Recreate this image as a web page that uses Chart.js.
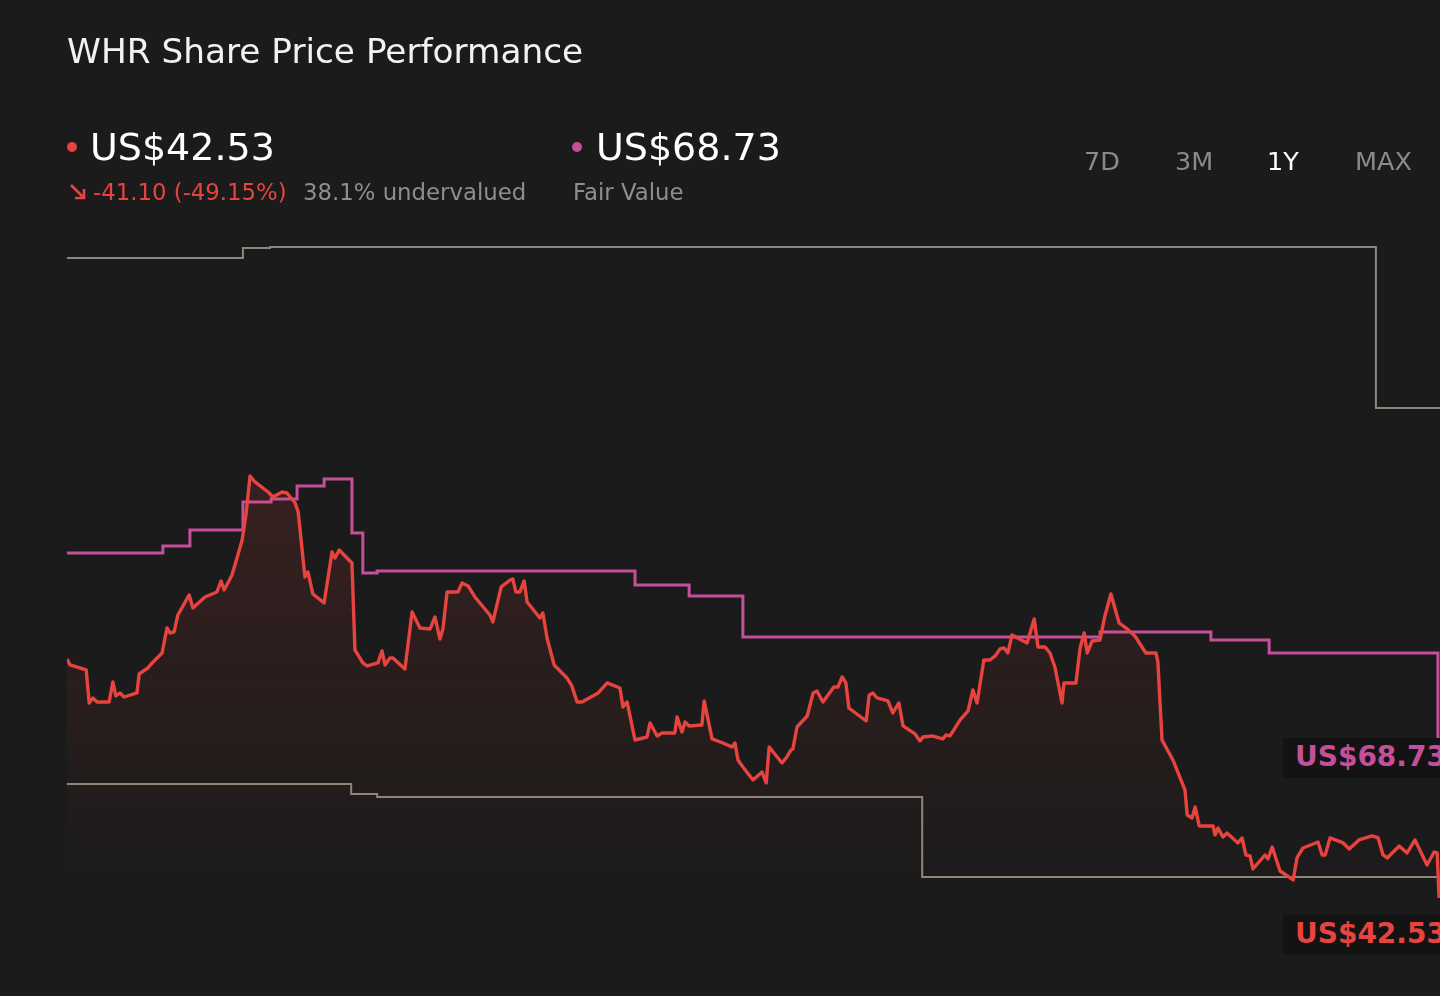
<!DOCTYPE html>
<html>
<head>
<meta charset="utf-8">
<script src="https://cdn.jsdelivr.net/npm/chart.js@4"></script>
<style>
  html, body { margin:0; padding:0; background:#1b1b1b; width:1440px; height:996px; overflow:hidden; font-family:"DejaVu Sans", sans-serif; }
  #wrap { position:relative; width:1440px; height:996px; }
  #c { position:absolute; left:0; top:0; }
  .t { position:absolute; line-height:1; white-space:nowrap; }
  .dot { position:absolute; width:10px; height:10px; border-radius:50%; }
  .endlab { position:absolute; left:1283px; width:157px; height:40px; background:#141313; overflow:hidden; border-radius:3px 0 0 3px; }
  .endlab span { position:absolute; left:12px; top:5px; font-weight:bold; font-size:28px; line-height:1; white-space:nowrap; }
</style>
</head>
<body>
<div id="wrap">
  <canvas id="c" width="1440" height="996"></canvas>
  <div class="t" style="left:67px;top:34px;font-size:34.3px;color:#f2f2f2;">WHR Share Price Performance</div>

  <div class="dot" style="left:67px;top:142px;background:#e8443f;"></div>
  <div class="t" style="left:90px;top:128px;font-size:38px;color:#ffffff;">US$42.53</div>
  <svg style="position:absolute;left:69px;top:183px;" width="18" height="18" viewBox="0 0 18 18">
    <path d="M2 2 L15 15 M15 6 L15 15 L6 15" stroke="#e8443f" stroke-width="2.6" fill="none"/>
  </svg>
  <div class="t" style="left:93px;top:181px;font-size:22.8px;color:#e8443f;">-41.10 (-49.15%)</div>
  <div class="t" style="left:303px;top:181px;font-size:22.8px;color:#8e8e8e;">38.1% undervalued</div>

  <div class="dot" style="left:572px;top:142px;background:#c4509a;"></div>
  <div class="t" style="left:596px;top:128px;font-size:38px;color:#ffffff;">US$68.73</div>
  <div class="t" style="left:573px;top:181px;font-size:22.8px;color:#8e8e8e;">Fair Value</div>

  <div class="t" style="left:1084px;top:149px;font-size:25.5px;color:#8a8a8a;">7D</div>
  <div class="t" style="left:1175px;top:149px;font-size:25.5px;color:#8a8a8a;">3M</div>
  <div class="t" style="left:1267px;top:149px;font-size:25.5px;color:#ffffff;">1Y</div>
  <div class="t" style="left:1355px;top:149px;font-size:25.5px;color:#8a8a8a;">MAX</div>

  <div class="endlab" style="top:738px;"><span style="color:#c4509a;">US$68.73</span></div>
  <div class="endlab" style="top:915px;"><span style="color:#e8443f;">US$42.53</span></div>
</div>
<script>
// Days since start of the 1-year window
const priceDays = [0.0,0.8,5.1,5.9,6.9,8.0,11.2,12.2,13.0,14.1,15.2,18.6,19.2,21.5,22.9,25.3,26.6,27.4,28.5,29.5,
  32.5,33.5,36.7,39.9,41.0,41.8,43.9,46.6,47.6,48.7,50.0,53.5,54.8,57.2,58.5,60.7,61.5,63.3,64.1,65.4,
  68.4,70.5,71.3,72.4,75.8,76.6,78.7,79.8,82.7,83.8,84.6,85.9,86.7,89.9,91.8,93.9,96.6,97.9,99.2,100.0,
  101.1,104.0,105.1,106.7,108.5,112.5,113.3,115.5,117.9,118.6,119.4,120.5,121.6,122.4,125.8,126.6,127.7,129.6,133.0,134.3,
  135.7,137.0,141.3,143.7,147.1,147.9,149.0,151.1,154.3,155.1,157.0,158.3,161.7,162.3,163.6,164.4,165.5,168.9,169.5,171.6,
  174.5,176.9,177.7,178.5,179.8,182.5,184.9,186.0,186.8,190.2,191.5,192.6,193.1,194.2,196.9,198.5,199.5,201.1,204.0,205.1,
  206.2,207.2,208.0,212.6,213.4,214.4,215.5,218.4,219.7,221.3,222.4,225.6,226.9,227.7,230.1,233.0,233.8,234.9,237.6,239.7,
  241.0,242.1,243.9,245.5,246.9,248.2,249.3,250.3,251.4,255.4,257.3,258.3,260.2,261.5,262.8,264.7,265.2,268.4,269.5,270.6,
  271.4,272.7,274.8,276.1,277.7,279.9,282.0,284.1,287.0,289.7,290.2,291.3,294.2,297.4,298.0,299.3,300.1,301.2,304.9,305.4,
  306.2,307.5,308.6,311.5,312.6,313.6,314.7,315.5,318.7,319.5,320.6,322.7,326.2,327.2,328.8,332.8,333.9,334.7,336.0,339.5,
  341.1,343.7,347.2,348.8,350.1,351.2,354.4,356.5,358.6,361.8,363.7,364.5,365.0];
// WHR close price (US$)
const priceValues = [81.67,80.68,79.87,74.46,75.28,74.63,74.63,77.90,75.61,76.10,75.44,76.10,79.21,80.19,81.18,82.65,86.74,85.92,86.09,88.87,
  92.15,90.02,91.82,92.64,94.44,92.97,95.42,101.15,105.25,111.63,110.65,109.01,108.19,109.01,108.85,107.21,105.74,95.09,95.91,92.31,
  90.84,99.19,98.21,99.52,97.39,83.14,81.01,80.52,81.01,82.98,80.68,81.83,81.83,80.03,89.36,86.74,86.58,88.54,84.94,86.58,
  92.64,92.64,94.11,93.62,91.82,88.87,87.73,93.46,94.60,94.77,92.64,92.64,94.44,91.00,88.38,89.20,85.11,80.68,78.56,77.25,
  74.63,74.63,76.10,77.74,76.92,73.81,74.63,68.40,68.89,71.19,69.06,69.55,69.55,72.17,69.71,71.35,70.70,70.86,74.79,68.57,
  67.91,67.26,67.91,65.13,63.98,61.85,63.16,61.36,67.26,64.64,65.62,66.77,66.93,70.53,72.33,76.10,76.43,74.63,77.08,77.08,
  78.72,77.74,73.64,71.51,75.77,76.10,75.28,74.79,72.82,74.46,70.70,69.39,68.24,68.89,69.06,68.57,69.22,69.06,71.68,73.15,
  76.59,74.46,81.50,81.50,82.16,83.30,83.47,82.65,85.60,84.29,88.22,83.63,83.63,82.65,80.36,74.46,77.74,77.74,83.47,85.92,
  82.65,84.61,84.78,88.71,92.31,87.56,86.58,85.43,82.65,82.65,81.18,68.40,65.13,60.22,56.12,55.63,57.43,54.32,54.32,52.85,
  53.99,52.52,53.17,51.54,52.36,49.57,49.41,47.28,49.57,48.92,50.88,46.95,45.48,49.08,50.72,51.70,49.57,49.57,52.36,51.54,
  50.55,52.03,52.68,52.36,49.57,49.08,51.05,49.90,52.03,47.93,50.06,49.90,42.53];

// Fair value estimate (changes)
const fairDays   = [0.0,25.5,32.7,46.8,54.3,61.2,68.4,75.8,78.7,82.5,151.1,165.5,179.8,274.8,304.3,319.8,364.7];
const fairValues = [99.02,100.17,102.79,107.38,107.87,110.00,111.14,102.30,95.75,96.08,93.78,91.98,85.27,86.09,84.78,82.65,68.73];

// Analyst price target range
const highDays   = [0.0,46.8,54.0,348.2,365.25];
const highValues = [147.33,148.97,149.13,122.77,122.77];
const lowDays    = [0.0,75.6,82.5,227.5,365.25];
const lowValues  = [61.20,59.56,59.07,45.97,45.97];

const toXY = (xs, ys) => xs.map((x, i) => ({ x, y: ys[i] }));

const RED = '#e8443f', PINK = '#c4509a', GREY = '#8c877a';

const ctx = document.getElementById('c').getContext('2d');
new Chart(ctx, {
  type: 'line',
  data: {
    datasets: [
      {
        label: 'Price',
        data: toXY(priceDays, priceValues),
        borderColor: RED,
        borderWidth: 3.4,
        pointRadius: 0,
        tension: 0,
        borderJoinStyle: 'round',
        fill: 'start',
        backgroundColor: (c) => {
          const a = c.chart.chartArea;
          if (!a) return 'rgba(232,68,63,0.1)';
          const g = c.chart.ctx.createLinearGradient(0, 220, 0, a.bottom - 8);
          g.addColorStop(0, 'rgba(232,68,63,0.22)');
          g.addColorStop(0.55, 'rgba(232,68,63,0.10)');
          g.addColorStop(1, 'rgba(232,68,63,0)');
          return g;
        }
      },
      {
        label: 'Fair Value',
        data: toXY(fairDays, fairValues),
        borderColor: PINK,
        borderWidth: 3,
        pointRadius: 0,
        stepped: 'before',
        fill: false
      },
      {
        label: 'High',
        data: toXY(highDays, highValues),
        borderColor: GREY,
        borderWidth: 2,
        pointRadius: 0,
        stepped: 'before',
        fill: false
      },
      {
        label: 'Low',
        data: toXY(lowDays, lowValues),
        borderColor: GREY,
        borderWidth: 2,
        pointRadius: 0,
        stepped: 'before',
        fill: false
      }
    ]
  },
  options: {
    responsive: false,
    animation: false,
    devicePixelRatio: 1,
    layout: { padding: { left: 67, right: 0, top: 110, bottom: 91 } },
    plugins: { legend: { display: false }, tooltip: { enabled: false } },
    scales: {
      x: { type: 'linear', min: 0, max: 365.25, display: false },
      y: { type: 'linear', min: 41.38, max: 171.56, display: false }
    }
  }
});
</script>
</body>
</html>
